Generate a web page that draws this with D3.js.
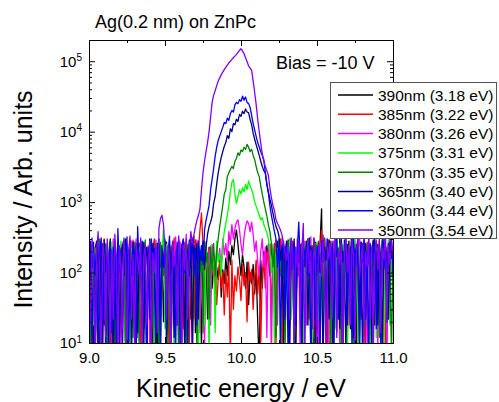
<!DOCTYPE html>
<html>
<head>
<meta charset="utf-8">
<script src="https://cdn.jsdelivr.net/npm/d3@7"></script>
<style>
  body { margin: 0; background: #fff; }
  svg { display: block; font-family: Arial, "Liberation Sans", sans-serif; }
</style>
</head>
<body>
<svg id="chart" width="499" height="402"></svg>
<script>
// energy grid, 9.00 .. 11.00 eV in 0.01 steps
const energy = d3.range(0, 201).map(i => +(9 + i * 0.01).toFixed(2));

const seriesLabels = ["390nm (3.18 eV)", "385nm (3.22 eV)", "380nm (3.26 eV)", "375nm (3.31 eV)",
                      "370nm (3.35 eV)", "365nm (3.40 eV)", "360nm (3.44 eV)", "350nm (3.54 eV)"];
const seriesColors = ["#000000", "#ff0000", "#ff00ff", "#00ff00", "#008000", "#000080", "#0000ff", "#8000ff"];

// intensities, 10 points per row (row k starts at 9.0 + 0.1k eV)
// values under 10 sit below the axis floor and get clipped
const s390 = [
  90, 240, 160, 8, 210, 280, 110, 6, 190, 250,
  18, 170, 230, 120, 300, 9, 200, 140, 5, 260,
  180, 22, 250, 190, 12, 220, 130, 290, 22, 150,
  230, 6, 170, 260, 110, 200, 16, 240, 160, 90,
  300, 130, 9, 210, 180, 4, 250, 120, 220, 20,
  160, 270, 100, 230, 8, 190, 280, 140, 18, 210,
  120, 250, 180, 7, 220, 150, 290, 22, 200, 330,
  14, 180, 240, 110, 8, 260, 140, 190, 22, 230,
  100, 60, 170, 40, 120, 80, 150, 45, 110, 70,
  160, 90, 200, 130, 240, 180, 300, 400, 250, 150,
  90, 180, 120, 60, 140, 35, 100, 70, 130, 50,
  110, 20, 5, 150, 60, 200, 120, 240, 170, 90,
  260, 140, 210, 14, 280, 180, 100, 230, 8, 200,
  150, 290, 22, 220, 130, 250, 5, 190, 260, 110,
  180, 9, 240, 160, 300, 90, 210, 130, 7, 270,
  200, 120, 250, 800, 18, 180, 230, 100, 290, 150,
  9, 260, 170, 210, 22, 300, 130, 6, 240, 190,
  110, 280, 16, 200, 160, 240, 8, 220, 140, 270,
  90, 180, 250, 120, 5, 230, 170, 290, 18, 210,
  250, 100, 190, 9, 270, 150, 220, 22, 300, 130,
  180
];
const s385 = [
  140, 270, 8, 190, 230, 22, 5, 250, 160, 100,
  300, 12, 210, 130, 260, 6, 180, 240, 20, 150,
  220, 110, 8, 280, 170, 200, 4, 230, 130, 290,
  18, 190, 250, 100, 8, 270, 150, 210, 9, 240,
  170, 7, 220, 300, 90, 160, 250, 14, 200, 130,
  280, 22, 180, 5, 240, 140, 310, 100, 200, 9,
  230, 160, 16, 270, 120, 190, 8, 250, 170, 22,
  290, 130, 210, 400, 700, 250, 18, 180, 100, 220,
  50, 150, 90, 120, 35, 80, 140, 60, 100, 25,
  110, 45, 130, 6, 150, 30, 90, 55, 120, 80,
  40, 130, 65, 100, 20, 140, 75, 110, 30, 90,
  150, 50, 120, 10, 95, 160, 60, 200, 130, 250,
  22, 180, 260, 9, 220, 150, 300, 6, 190, 110,
  240, 130, 18, 210, 280, 8, 170, 230, 90, 150,
  260, 5, 200, 120, 300, 22, 180, 240, 12, 220,
  110, 280, 190, 400, 18, 230, 140, 6, 260, 170,
  90, 210, 300, 14, 150, 250, 120, 7, 190, 280,
  140, 18, 230, 170, 3, 260, 110, 200, 310, 22,
  220, 150, 8, 270, 190, 100, 240, 16, 180, 290,
  120, 200, 22, 250, 160, 8, 230, 140, 280, 90,
  200
];
const s380 = [
  250, 120, 6, 210, 170, 18, 290, 140, 8, 220,
  22, 260, 190, 5, 240, 130, 300, 16, 180, 110,
  220, 8, 270, 150, 90, 240, 3, 200, 280, 22,
  180, 300, 12, 230, 140, 6, 260, 100, 210, 160,
  8, 250, 190, 22, 290, 130, 220, 5, 170, 260,
  120, 200, 18, 280, 7, 240, 150, 320, 90, 190,
  270, 9, 210, 130, 350, 22, 230, 180, 6, 260,
  100, 290, 150, 14, 240, 200, 8, 270, 120, 210,
  18, 250, 170, 90, 230, 150, 220, 120, 300, 180,
  260, 150, 380, 250, 480, 300, 420, 520, 560, 400,
  250, 180, 320, 450, 540, 500, 380, 520, 350, 200,
  280, 140, 90, 200, 300, 120, 230, 12, 260, 170,
  6, 220, 130, 290, 18, 240, 180, 310, 100, 200,
  150, 270, 8, 210, 120, 260, 22, 300, 190, 5,
  230, 140, 280, 18, 200, 170, 320, 7, 250, 110,
  190, 9, 260, 150, 220, 90, 300, 130, 6, 240,
  170, 280, 22, 210, 140, 8, 250, 190, 110, 450,
  14, 220, 160, 270, 4, 240, 130, 200, 290, 22,
  260, 110, 190, 9, 300, 170, 230, 20, 210, 150,
  8, 280, 140, 220, 100, 250, 6, 190, 310, 120,
  240
];
const s375 = [
  8, 170, 250, 18, 220, 120, 3, 200, 280, 90,
  190, 14, 240, 150, 6, 270, 110, 180, 9, 230,
  140, 280, 22, 200, 4, 250, 160, 8, 220, 100,
  260, 12, 180, 120, 290, 20, 210, 150, 7, 240,
  90, 200, 160, 8, 270, 110, 230, 5, 190, 420,
  16, 250, 130, 200, 22, 280, 6, 170, 240, 110,
  190, 9, 260, 140, 220, 4, 180, 300, 22, 210,
  130, 250, 8, 190, 100, 270, 18, 220, 160, 7,
  240, 110, 200, 14, 280, 140, 190, 90, 250, 380,
  500, 650, 900, 1400, 1900, 2100, 1300, 950, 1200, 1500,
  1300, 1600, 1400, 1800, 1500, 2000, 1700, 1500, 1300, 1000,
  870, 750, 650, 560, 600, 480, 420, 370, 300, 200,
  100, 250, 9, 190, 130, 280, 5, 220, 160, 18,
  240, 110, 300, 22, 180, 7, 230, 150, 270, 90,
  200, 3, 250, 140, 18, 290, 170, 9, 220, 120,
  270, 22, 190, 230, 8, 210, 110, 260, 150, 6,
  230, 160, 16, 280, 120, 200, 8, 250, 90, 180,
  5, 240, 140, 200, 22, 300, 160, 7, 230, 120,
  210, 18, 260, 150, 190, 4, 240, 100, 280, 12,
  170, 220, 22, 250, 8, 200, 140, 290, 18, 230,
  110
];
const s370 = [
  180, 9, 260, 110, 5, 230, 150, 300, 22, 200,
  130, 250, 6, 170, 280, 90, 210, 8, 150, 260,
  18, 220, 140, 310, 7, 190, 100, 250, 170, 12,
  270, 120, 200, 8, 240, 22, 160, 290, 4, 210,
  140, 260, 16, 190, 230, 100, 6, 270, 150, 90,
  300, 170, 9, 220, 120, 260, 18, 190, 240, 5,
  210, 22, 280, 150, 8, 250, 120, 190, 18, 230,
  170, 7, 260, 100, 210, 14, 280, 140, 190, 22,
  230, 110, 260, 90, 200, 300, 450, 630, 900, 1300,
  1500, 2300, 2600, 2900, 3200, 3000, 3800, 4200, 5000, 4600,
  5500, 5200, 6000, 5600, 6600, 6000, 5200, 5600, 4600, 4000,
  3200, 2600, 2300, 1700, 1300, 1000, 800, 630, 480, 380,
  260, 120, 220, 12, 180, 300, 90, 240, 140, 8,
  200, 270, 22, 160, 230, 6, 190, 110, 280, 150,
  14, 240, 180, 100, 300, 130, 5, 220, 170, 260,
  90, 200, 8, 250, 140, 310, 22, 180, 230, 9,
  280, 120, 210, 18, 170, 260, 7, 200, 150, 300,
  22, 230, 140, 270, 5, 190, 250, 110, 9, 220,
  160, 290, 18, 200, 130, 240, 8, 180, 270, 100,
  230, 12, 170, 300, 120, 210, 20, 250, 140, 6,
  190
];
const s365 = [
  18, 200, 120, 270, 8, 160, 240, 22, 190, 6,
  290, 100, 170, 9, 230, 140, 4, 260, 22, 210,
  8, 180, 250, 90, 300, 18, 150, 220, 5, 270,
  130, 240, 14, 190, 110, 280, 7, 160, 230, 85,
  200, 9, 260, 140, 5, 220, 300, 22, 180, 120,
  250, 8, 170, 230, 95, 270, 12, 200, 130, 290,
  20, 210, 150, 8, 250, 180, 90, 300, 6, 240,
  120, 260, 22, 200, 150, 280, 110, 230, 350, 450,
  520, 630, 950, 1200, 1800, 2600, 3400, 4300, 5200, 6200,
  7000, 8800, 8000, 11000, 10000, 13000, 12500, 15000, 14000, 17500,
  16500, 19500, 18000, 21000, 19000, 18500, 15000, 12500, 9500, 7800,
  6500, 5500, 4600, 3800, 3200, 2800, 2600, 1800, 1400, 1100,
  900, 700, 550, 450, 400, 330, 150, 240, 18, 200,
  280, 110, 8, 230, 170, 300, 22, 190, 140, 250,
  6, 210, 120, 280, 18, 180, 240, 95, 310, 9,
  160, 260, 100, 200, 4, 230, 150, 290, 22, 190,
  120, 8, 270, 170, 220, 16, 300, 140, 200, 7,
  250, 90, 180, 430, 12, 210, 130, 270, 22, 230,
  5, 190, 260, 100, 240, 150, 8, 280, 170, 220,
  18, 250, 140, 6, 300, 110, 200, 22, 270, 160,
  230
];
const s360 = [
  150, 280, 8, 200, 90, 260, 4, 180, 310, 22,
  240, 5, 190, 120, 280, 14, 230, 160, 7, 420,
  100, 210, 9, 260, 140, 320, 6, 180, 90, 250,
  170, 8, 450, 110, 200, 18, 270, 150, 3, 230,
  22, 300, 130, 220, 12, 260, 170, 8, 240, 120,
  280, 16, 190, 330, 22, 210, 140, 7, 270, 160,
  9, 230, 300, 100, 180, 6, 260, 150, 310, 90,
  220, 18, 280, 160, 240, 130, 400, 550, 700, 900,
  1500, 2100, 3000, 4500, 6000, 7500, 8700, 10000, 11500, 13500,
  13000, 15500, 14500, 18000, 20000, 19000, 24000, 26000, 25000, 28500,
  27000, 32000, 28000, 31000, 26000, 25000, 22000, 17000, 13000, 10500,
  8500, 7000, 6000, 5200, 4600, 4000, 2600, 1800, 1350, 900,
  650, 500, 380, 300, 120, 260, 9, 190, 280, 22,
  230, 6, 170, 300, 110, 250, 18, 200, 520, 130,
  8, 270, 150, 220, 90, 310, 5, 190, 260, 22,
  240, 120, 8, 280, 170, 210, 14, 300, 140, 100,
  260, 7, 200, 460, 22, 180, 240, 4, 290, 150,
  18, 220, 170, 9, 310, 120, 250, 190, 8, 270,
  140, 320, 22, 200, 6, 260, 110, 230, 300, 16,
  180, 240, 8, 290, 130, 210, 20, 260, 160, 320,
  90
];
const s350 = [
  220, 18, 310, 140, 7, 190, 380, 90, 5, 260,
  170, 12, 300, 120, 8, 210, 22, 350, 140, 6,
  240, 110, 16, 290, 160, 4, 200, 330, 22, 180,
  9, 260, 150, 95, 310, 6, 170, 240, 18, 130,
  280, 8, 190, 100, 260, 14, 420, 580, 650, 480,
  200, 22, 240, 150, 8, 280, 120, 200, 18, 330,
  170, 5, 250, 110, 300, 22, 210, 380, 260, 340,
  450, 550, 650, 800, 1500, 2600, 3800, 5200, 7000, 10000,
  16000, 26000, 33000, 38000, 45000, 52000, 58000, 64000, 70000, 76000,
  82000, 88000, 95000, 100000, 106000, 112000, 118000, 125000, 133000, 142000,
  150000, 140000, 128000, 112000, 98000, 86000, 80000, 74000, 52000, 36000,
  24000, 15000, 10000, 6800, 4800, 3800, 3200, 2800, 2400, 1600,
  1150, 900, 760, 560, 500, 450, 400, 340, 260, 200,
  150, 260, 22, 310, 180, 9, 230, 120, 280, 20,
  200, 500, 7, 160, 270, 100, 210, 16, 300, 140,
  8, 250, 180, 90, 340, 120, 5, 230, 160, 280,
  22, 190, 310, 12, 220, 130, 260, 4, 180, 300,
  100, 240, 18, 290, 170, 8, 210, 330, 90, 150,
  260, 9, 200, 120, 310, 22, 230, 5, 180, 270,
  110, 300, 14, 220, 150, 480, 20, 240, 130, 280,
  190
];
const seriesValues = [s390, s385, s380, s375, s370, s365, s360, s350];

const xMajor = [9.0, 9.5, 10.0, 10.5, 11.0];
const xMinor = [9.25, 9.75, 10.25, 10.75];
const yMajor = [1e1, 1e2, 1e3, 1e4, 1e5];
const yMinor = [];
for (let p = 1; p <= 5; p++) for (let k = 2; k <= 9; k++) if (k * 10 ** p <= 2e5) yMinor.push(k * 10 ** p);

const W = 499, H = 402;
const margin = { top: 40, right: 106, bottom: 59, left: 89 };

const svg = d3.select("#chart");

const x = d3.scaleLinear().domain([9, 11]).range([margin.left, W - margin.right]);
const y = d3.scaleLog().domain([10, 2e5]).range([H - margin.bottom, margin.top]);

svg.append("clipPath").attr("id", "plotclip")
  .append("rect")
  .attr("x", margin.left).attr("y", margin.top)
  .attr("width", W - margin.left - margin.right)
  .attr("height", H - margin.top - margin.bottom);

const line = d3.line()
  .x((d, i) => x(energy[i]))
  .y(d => y(d));

const plot = svg.append("g").attr("clip-path", "url(#plotclip)");
seriesValues.forEach((vals, k) => {
  plot.append("path")
    .datum(vals)
    .attr("fill", "none")
    .attr("stroke", seriesColors[k])
    .attr("stroke-width", 1.3)
    .attr("stroke-linejoin", "round")
    .attr("d", line);
});

// axes, ticks pointing inward on all four sides
const bottom = H - margin.bottom, right = W - margin.right;

svg.append("g").attr("transform", `translate(0,${bottom})`)
  .call(d3.axisBottom(x).tickValues(xMajor).tickFormat(d3.format(".1f"))
    .tickSize(-6).tickSizeOuter(0).tickPadding(9))
  .call(g => g.selectAll("text").attr("font-size", 15).attr("fill", "#000").attr("font-family", null));
svg.append("g").attr("transform", `translate(0,${bottom})`)
  .call(d3.axisBottom(x).tickValues(xMinor).tickFormat("").tickSize(-3).tickSizeOuter(0));

svg.append("g").attr("transform", `translate(0,${margin.top})`)
  .call(d3.axisTop(x).tickValues(xMajor).tickFormat("").tickSize(-6).tickSizeOuter(0));
svg.append("g").attr("transform", `translate(0,${margin.top})`)
  .call(d3.axisTop(x).tickValues(xMinor).tickFormat("").tickSize(-3).tickSizeOuter(0));

svg.append("g").attr("transform", `translate(${margin.left},0)`)
  .call(d3.axisLeft(y).tickValues(yMajor).tickSize(-6).tickSizeOuter(0).tickPadding(7))
  .call(g => g.selectAll("text").each(function (d) {
    const t = d3.select(this).text(null).attr("font-size", 15).attr("fill", "#000").attr("font-family", null);
    t.append("tspan").text("10");
    t.append("tspan").attr("dy", "-0.55em").attr("font-size", 10).text(Math.round(Math.log10(d)));
  }));
svg.append("g").attr("transform", `translate(${margin.left},0)`)
  .call(d3.axisLeft(y).tickValues(yMinor).tickFormat("").tickSize(-3).tickSizeOuter(0));

svg.append("g").attr("transform", `translate(${right},0)`)
  .call(d3.axisRight(y).tickValues(yMajor).tickFormat("").tickSize(-6).tickSizeOuter(0));
svg.append("g").attr("transform", `translate(${right},0)`)
  .call(d3.axisRight(y).tickValues(yMinor).tickFormat("").tickSize(-3).tickSizeOuter(0));

// texts
svg.append("text").attr("x", 95).attr("y", 28).attr("font-size", 18).text("Ag(0.2 nm) on ZnPc");
svg.append("text").attr("x", 276).attr("y", 69).attr("font-size", 18).text("Bias = -10 V");

svg.append("text")
  .attr("x", (margin.left + right) / 2).attr("y", 397)
  .attr("text-anchor", "middle").attr("font-size", 25)
  .text("Kinetic energy / eV");
svg.append("text")
  .attr("transform", `translate(32,${(margin.top + bottom) / 2 + 8}) rotate(-90)`)
  .attr("text-anchor", "middle").attr("font-size", 25)
  .text("Intensity / Arb. units");

// legend
const legend = svg.append("g").attr("transform", "translate(330,82)");
legend.append("rect")
  .attr("x", 0.5).attr("y", 0.5).attr("width", 166).attr("height", 156)
  .attr("fill", "#fff").attr("stroke", "#555").attr("stroke-width", 1);
seriesLabels.forEach((lab, k) => {
  const yy = 13 + k * 19.3;
  legend.append("line")
    .attr("x1", 8).attr("x2", 43).attr("y1", yy).attr("y2", yy)
    .attr("stroke", seriesColors[k]).attr("stroke-width", 1.5);
  legend.append("text")
    .attr("x", 48).attr("y", yy + 5.5).attr("font-size", 15.5)
    .text(lab);
});
</script>
</body>
</html>
